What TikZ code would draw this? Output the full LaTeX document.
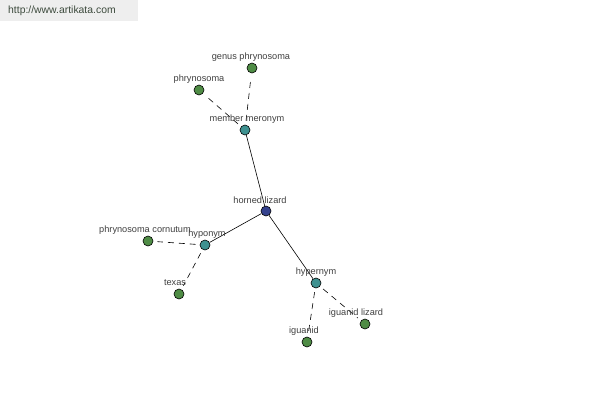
\documentclass[tikz,border=0pt]{standalone}
\usepackage{fontspec}
\setmainfont{Liberation Sans}
\usepackage{xcolor}
\usetikzlibrary{positioning}
\definecolor{ArtiGreen}{HTML}{4F8C45}
\definecolor{ArtiTeal}{HTML}{3E9190}
\definecolor{ArtiBlue}{HTML}{35428E}
\definecolor{ArtiText}{HTML}{404040}
\definecolor{ArtiBar}{HTML}{EEEEEE}
\definecolor{ArtiLink}{HTML}{3C4A3C}

\begin{document}
\begin{tikzpicture}[x=1pt,y=-1pt,
  dot/.style={circle, draw=black, line width=0.6pt, minimum size=10pt, inner sep=0pt},
  tag/.style={font=\fontsize{9.2}{11}\selectfont, text=ArtiText, inner sep=0pt},
  rel/.style={line width=0.6pt},
  link/.style={line width=0.6pt, dash pattern=on 6pt off 5pt, shorten <=4pt, shorten >=4pt}]
  % Canvas and header bar
  \useasboundingbox[fill=white] (0,0) rectangle (600,400);
  \fill[ArtiBar] (0,0) rectangle (138,21);
  \node[font=\fontsize{10.4}{12}\selectfont, text=ArtiLink, anchor=west, inner sep=0pt] (site) at (8,11) {http://www.artikata.com};

  % Relations
  \node[dot, fill=ArtiBlue]  (horned) at (266,211) {};
  \node[dot, fill=ArtiTeal]  (meronym) at (245,130) {};
  \node[dot, fill=ArtiTeal]  (hyponym) at (205,245) {};
  \node[dot, fill=ArtiTeal]  (hypernym) at (316,283) {};

  % Words
  \node[dot, fill=ArtiGreen] (genus) at (252,68) {};
  \node[dot, fill=ArtiGreen] (phryno) at (199,90) {};
  \node[dot, fill=ArtiGreen] (cornutum) at (148,241) {};
  \node[dot, fill=ArtiGreen] (texas) at (179,294) {};
  \node[dot, fill=ArtiGreen] (iglizard) at (365,324) {};
  \node[dot, fill=ArtiGreen] (iguanid) at (307,342) {};

  % Edges
  \draw[rel] (horned) -- (meronym);
  \draw[rel] (horned) -- (hyponym);
  \draw[rel] (horned) -- (hypernym);
  \draw[link] (meronym) -- (genus);
  \draw[link] (meronym) -- (phryno);
  \draw[link] (hyponym) -- (cornutum);
  \draw[link] (hyponym) -- (texas);
  \draw[link] (hypernym) -- (iglizard);
  \draw[link] (hypernym) -- (iguanid);

  % Labels
  \node[tag] (horned-t) at (260,200) {horned lizard};
  \node[tag] (meronym-t) at (247,119) {member meronym};
  \node[tag] (hyponym-t) at (207,234) {hyponym};
  \node[tag] (hypernym-t) at (316,272) {hypernym};
  \node[tag] (genus-t) at (251,57) {genus phrynosoma};
  \node[tag] (phryno-t) at (199,79) {phrynosoma};
  \node[tag] (cornutum-t) at (145,230) {phrynosoma cornutum};
  \node[tag] (texas-t) at (175,283) {texas};
  \node[tag] (iglizard-t) at (356,313) {iguanid lizard};
  \node[tag] (iguanid-t) at (304,331) {iguanid};
\end{tikzpicture}
\end{document}
